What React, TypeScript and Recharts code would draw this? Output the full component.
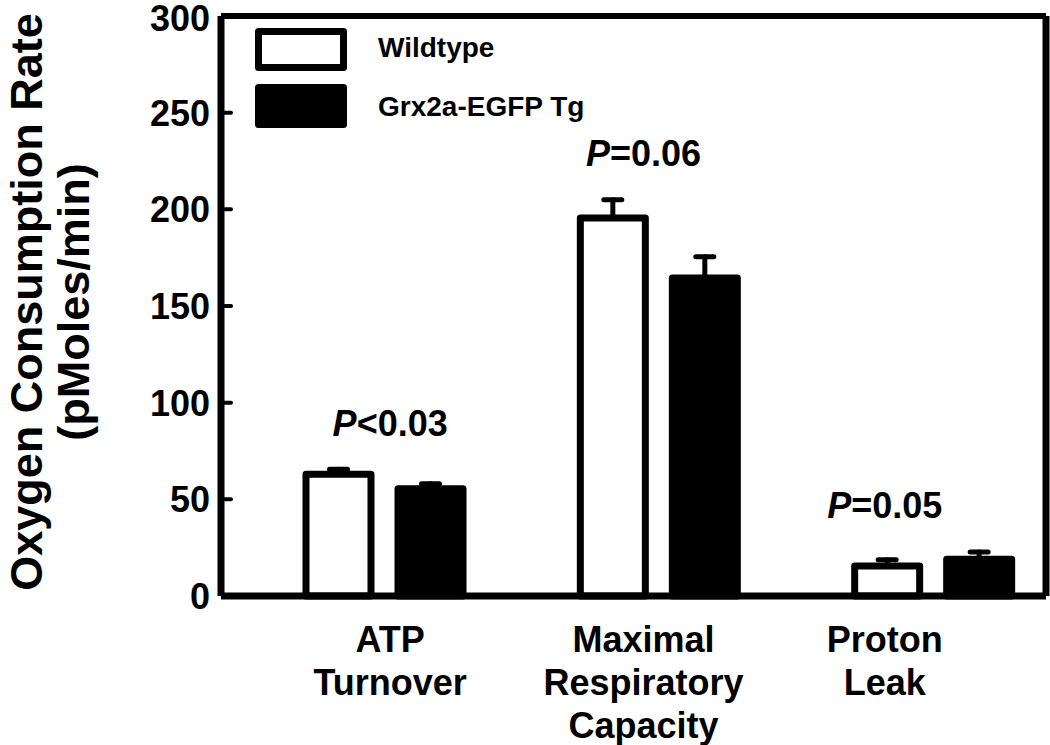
import { BarChart, Bar, Line, XAxis, YAxis, ErrorBar, Legend, ReferenceDot } from 'recharts';

const categories = ['ATP\nTurnover', 'Maximal\nRespiratory\nCapacity', 'Proton\nLeak'];
const wildtype = [63, 195.5, 15.5];
const wildtypeSem = [2.5, 9.5, 3.2];
const transgenic = [55.5, 164.5, 19];
const transgenicSem = [2.5, 11, 3.8];
const pValues = ['<0.03', '=0.06', '=0.05'];
const yTicks = [0, 50, 100, 150, 200, 250, 300];

const rows = categories.map((cat, i) => ({
  cat,
  wt: wildtype[i],
  wtErr: [0, wildtypeSem[i]],
  tg: transgenic[i],
  tgErr: [0, transgenicSem[i]],
}));

const FONT = '"Liberation Sans", Arial, Helvetica, sans-serif';
const AXIS_X = 221;
const PLOT_BOTTOM = 596;
const LINE = 7;
// in the original figure the texts sit a little left of the bar pairs
const textShift = [6, -15, -48];

function YTick(props: any) {
  const { y, payload } = props;
  const v = payload.value;
  return (
    <g>
      {v > 0 && v < 300 && (
        <line x1={AXIS_X} x2={AXIS_X + 10} y1={y} y2={y} stroke="#000" strokeWidth={4} strokeLinecap="round" />
      )}
      <text x={AXIS_X - 11} y={v === 300 ? y + 2 : y} dy="0.36em" textAnchor="end" fontFamily={FONT} fontWeight="bold" fontSize={36} fill="#000">
        {v}
      </text>
    </g>
  );
}

function XTick(props: any) {
  const { x, payload, index } = props;
  const lines = String(payload.value).split('\n');
  return (
    <g>
      {lines.map((t, i) => (
        <text key={i} x={x + textShift[index]} y={PLOT_BOTTOM + 56 + i * 43} textAnchor="middle" fontFamily={FONT} fontWeight="bold" fontSize={36} fill="#000">
          {t}
        </text>
      ))}
    </g>
  );
}

function YTitle() {
  const cy = 302;
  return (
    <g fontFamily={FONT} fontWeight="bold" fontSize={45} fill="#000">
      <text x={42} y={cy} textAnchor="middle" transform={`rotate(-90 42 ${cy})`}>
        Oxygen Consumption Rate
      </text>
      <text x={89} y={cy} textAnchor="middle" transform={`rotate(-90 89 ${cy})`}>
        (pMoles/min)
      </text>
    </g>
  );
}

function LegendBox() {
  return (
    <svg width={360} height={110}>
      <rect x={3.5} y={3.5} width={85} height={36} fill="#fff" stroke="#000" strokeWidth={LINE} strokeLinejoin="round" />
      <rect x={3.5} y={59.5} width={85} height={37} fill="#000" stroke="#000" strokeWidth={LINE} strokeLinejoin="round" />
      <text x={123} y={29} fontFamily={FONT} fontWeight="bold" fontSize={28} fill="#000">Wildtype</text>
      <text x={123} y={88} fontFamily={FONT} fontWeight="bold" fontSize={28} fill="#000">Grx2a-EGFP Tg</text>
    </svg>
  );
}

function PLabel(text: string, shift: number) {
  return (props: any) => (
    <text x={props.cx + shift} y={props.cy} dy="0.36em" textAnchor="middle" fontFamily={FONT} fontWeight="bold" fontSize={36} fill="#000">
      <tspan fontStyle="italic">P</tspan>
      {text}
    </text>
  );
}

export default function App() {
  return (
    <div style={{ position: 'absolute', left: 0, top: 0, width: 1050, height: 745, overflow: 'hidden', background: '#fff' }}>
      <BarChart width={1050} height={745} data={rows} margin={{ top: 15, right: 3, bottom: 0, left: 0 }} barSize={65} barGap={27}>
        <XAxis
          dataKey="cat"
          height={149}
          interval={0}
          padding={{ left: 26, right: -24 }}
          axisLine={{ stroke: '#000', strokeWidth: LINE }}
          tickLine={false}
          tickSize={0}
          tickMargin={0}
          tick={<XTick />}
        />
        <XAxis xAxisId="top" dataKey="cat" orientation="top" height={1} axisLine={{ stroke: '#000', strokeWidth: 6 }} tick={false} tickLine={false} />
        <YAxis
          width={AXIS_X}
          domain={[0, 300]}
          ticks={yTicks}
          interval={0}
          axisLine={{ stroke: '#000', strokeWidth: LINE }}
          tickLine={false}
          tickSize={0}
          tickMargin={0}
          tick={<YTick />}
          label={<YTitle />}
        />
        <YAxis yAxisId="right" orientation="right" width={1} domain={[0, 300]} axisLine={{ stroke: '#000', strokeWidth: LINE }} tick={false} tickLine={false} />
        <Legend layout="vertical" align="center" verticalAlign="middle" wrapperStyle={{ left: 255, top: 28, width: 360 }} content={() => <LegendBox />} />
        <Bar dataKey="wt" name="Wildtype" fill="#fff" stroke="#000" strokeWidth={LINE} strokeLinejoin="round" isAnimationActive={false}>
          <ErrorBar dataKey="wtErr" width={9} stroke="#000" strokeWidth={5} strokeLinecap="round" isAnimationActive={false} />
        </Bar>
        <Bar dataKey="tg" name="Grx2a-EGFP Tg" fill="#000" stroke="#000" strokeWidth={LINE} strokeLinejoin="round" isAnimationActive={false}>
          <ErrorBar dataKey="tgErr" width={9} stroke="#000" strokeWidth={5} strokeLinecap="round" isAnimationActive={false} />
        </Bar>
        {/* invisible series so the frame axes (top, right) are drawn */}
        <Line xAxisId="top" yAxisId="right" dataKey="wt" stroke="none" dot={false} activeDot={false} legendType="none" isAnimationActive={false} />
        {categories.map((cat, i) => (
          <ReferenceDot
            key={cat}
            x={cat}
            y={Math.max(wildtype[i] + wildtypeSem[i], transgenic[i] + transgenicSem[i]) + 24}
            r={1}
            shape={PLabel(pValues[i], textShift[i])}
          />
        ))}
      </BarChart>
    </div>
  );
}
